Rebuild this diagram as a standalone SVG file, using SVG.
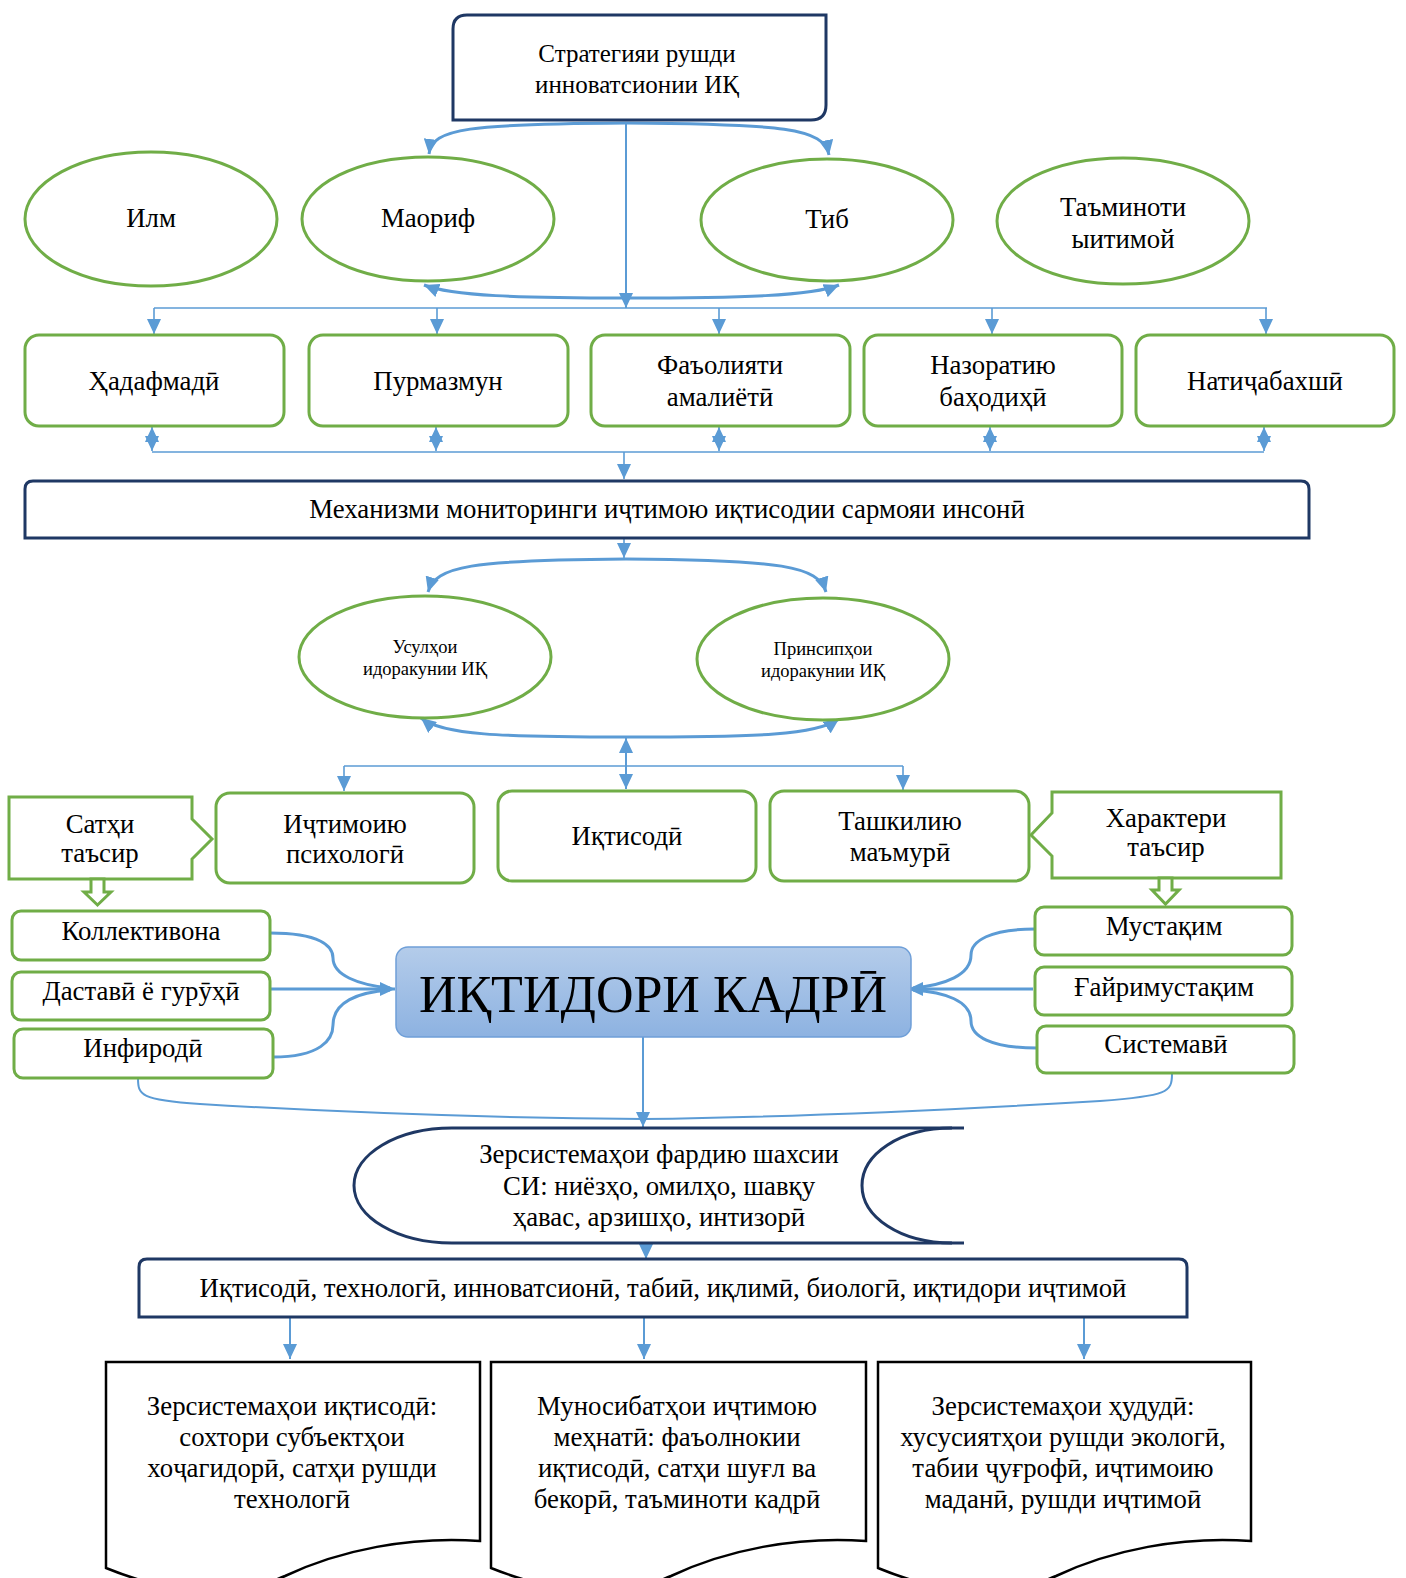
<svg xmlns="http://www.w3.org/2000/svg" width="1406" height="1578" viewBox="0 0 1406 1578">
<defs>
<style>
text{font-family:"Liberation Serif","Times New Roman",serif;fill:#000;text-anchor:middle}
.t25{font-size:26.8px}
.t24{font-size:25px}
.t18{font-size:18.5px}
.green{fill:#fff;stroke:#70AD47;stroke-width:3}
.navy{fill:#fff;stroke:#1F3864;stroke-width:3}
.doc{fill:#fff;stroke:#000;stroke-width:2.5}
.c{fill:none;stroke:#5B9BD5;stroke-width:2}
.ct{fill:none;stroke:#5B9BD5;stroke-width:3}
.ch{fill:none;stroke:#5B9BD5;stroke-width:1.6}
.ar{marker-end:url(#ah)}
.dbl{marker-start:url(#ah);marker-end:url(#ah)}
</style>
<marker id="ah" markerUnits="userSpaceOnUse" markerWidth="16" markerHeight="14" refX="15" refY="7" orient="auto-start-reverse" viewBox="0 0 16 14">
<path d="M0,0 L15,7 L0,14 z" fill="#5B9BD5"/>
</marker>
<linearGradient id="gb" x1="0" y1="0" x2="0" y2="1">
<stop offset="0" stop-color="#B4CCEA"/>
<stop offset="1" stop-color="#8DB2E1"/>
</linearGradient>
</defs>

<g id="connectors">
<path class="ct ar" d="M626,123 C470,124 432,128 429,154"/>
<path class="ct ar" d="M626,123 C782,124 824,128 829,155"/>
<path class="c ar" d="M626,122 V308"/>
<path class="ct ar" d="M626,298 C520,298 452,296 424,285"/>
<path class="ct ar" d="M626,298 C740,298 812,296 839,285"/>
<path class="ch" d="M154,308 H1267"/>
<path class="ch ar" d="M154,308 V334"/>
<path class="ch ar" d="M437,308 V334"/>
<path class="ch ar" d="M719,308 V334"/>
<path class="ch ar" d="M992,308 V334"/>
<path class="ch ar" d="M1266,308 V334"/>
<path class="ch dbl" d="M152,427 V451"/>
<path class="ch dbl" d="M436,427 V451"/>
<path class="ch dbl" d="M719,427 V451"/>
<path class="ch dbl" d="M990,427 V451"/>
<path class="ch dbl" d="M1264,427 V451"/>
<path class="ch" d="M152,452 H1264"/>
<path class="ch ar" d="M624,452 V479"/>
<path class="ch ar" d="M624,538 V558"/>
<path class="ct ar" d="M626,559 C470,560 436,566 428,592"/>
<path class="ct ar" d="M626,559 C782,560 818,566 826,592"/>
<path class="ct ar" d="M626,737 C500,737 442,735 421,718"/>
<path class="ct ar" d="M626,737 C760,737 816,735 839,719"/>
<path class="c dbl" d="M626,738 V789"/>
<path class="ch" d="M344,766 H903"/>
<path class="ch ar" d="M344,766 V791"/>
<path class="ch ar" d="M903,766 V790"/>
<path class="ct" d="M270,933 C320,933 333,946 333,958 C333,975 358,985 390,988"/>
<path class="ct ar" d="M270,989 H395"/>
<path class="ct" d="M273,1057 C320,1057 333,1040 333,1025 C333,1002 358,992 390,990"/>
<path class="ct" d="M1035,929 C990,929 971,941 971,955 C971,975 945,985 913,988"/>
<path class="ct ar" d="M1033,989 H908"/>
<path class="ct" d="M1037,1048 C990,1048 971,1036 971,1021 C971,1001 945,992 913,990"/>
<path class="c" d="M138,1078 C138,1095 140,1100 200,1104 C350,1113 500,1118 643,1119"/>
<path class="c" d="M1172,1074 C1172,1092 1168,1096 1100,1101 C950,1110 800,1117 643,1119"/>
<path class="c ar" d="M643,1037 V1127"/>
<path class="c ar" d="M646,1244 V1259"/>
<path class="c ar" d="M290,1317 V1359"/>
<path class="c ar" d="M644,1317 V1359"/>
<path class="c ar" d="M1084,1317 V1359"/>
</g>

<g id="n-strategy">
<path class="navy" d="M467,15 H826 V105 Q826,120 811,120 H453 V29 Q453,15 467,15 Z"/>
<text class="t24" x="637" y="62">Стратегияи рушди</text>
<text class="t24" x="637" y="93">инноватсионии ИҚ</text>
</g>

<g id="n-ilm"><ellipse class="green" cx="151" cy="219" rx="126" ry="67"/><text class="t25" x="151" y="227">Илм</text></g>
<g id="n-maorif"><ellipse class="green" cx="428" cy="219" rx="126" ry="62"/><text class="t25" x="428" y="227">Маориф</text></g>
<g id="n-tib"><ellipse class="green" cx="827" cy="220" rx="126" ry="61"/><text class="t25" x="827" y="228">Тиб</text></g>
<g id="n-taminot"><ellipse class="green" cx="1123" cy="221" rx="126" ry="63"/><text class="t25" x="1123" y="216">Таъминоти</text><text class="t25" x="1123" y="248">ыитимой</text></g>

<g id="n-hadaf"><rect class="green" x="25" y="335" width="259" height="91" rx="14"/><text class="t25" x="154" y="390">Ҳадафмадӣ</text></g>
<g id="n-purmazmun"><rect class="green" x="309" y="335" width="259" height="91" rx="14"/><text class="t25" x="438" y="390">Пурмазмун</text></g>
<g id="n-faoliyat"><rect class="green" x="591" y="335" width="259" height="91" rx="14"/><text class="t25" x="720" y="374">Фаъолияти</text><text class="t25" x="720" y="406">амалиётӣ</text></g>
<g id="n-nazorat"><rect class="green" x="864" y="335" width="258" height="91" rx="14"/><text class="t25" x="993" y="374">Назоратию</text><text class="t25" x="993" y="406">баҳодиҳӣ</text></g>
<g id="n-natija"><rect class="green" x="1136" y="335" width="258" height="91" rx="14"/><text class="t25" x="1265" y="390">Натиҷабахшӣ</text></g>

<g id="n-mexanizm">
<path class="navy" d="M25,538 V489 Q25,481 33,481 H1301 Q1309,481 1309,489 V538 Z"/>
<text class="t25" x="667" y="518">Механизми мониторинги иҷтимою иқтисодии сармояи инсонӣ</text>
</g>

<g id="n-usul"><ellipse class="green" cx="425" cy="657" rx="126" ry="61"/><text class="t18" x="425" y="653">Усулҳои</text><text class="t18" x="425" y="675">идоракунии ИҚ</text></g>
<g id="n-prinsip"><ellipse class="green" cx="823" cy="659" rx="126" ry="61"/><text class="t18" x="823" y="655">Принсипҳои</text><text class="t18" x="823" y="677">идоракунии ИҚ</text></g>

<g id="n-sathi">
<path class="green" d="M9,797 H192 V819 L212,839 L192,859 V879 H9 Z"/>
<text class="t25" x="100" y="833">Сатҳи</text><text class="t25" x="100" y="862">таъсир</text>
<path class="green" d="M91,879 H104 V892 H111 L97.5,905 L84,892 H91 Z"/>
</g>
<g id="n-ijtimoi"><rect class="green" x="216" y="793" width="258" height="90" rx="14"/><text class="t25" x="345" y="833">Иҷтимоию</text><text class="t25" x="345" y="863">психологӣ</text></g>
<g id="n-iqtisodi"><rect class="green" x="498" y="791" width="258" height="90" rx="14"/><text class="t25" x="627" y="845">Иқтисодӣ</text></g>
<g id="n-tashkili"><rect class="green" x="770" y="791" width="259" height="90" rx="14"/><text class="t25" x="900" y="830">Ташкилию</text><text class="t25" x="900" y="861">маъмурӣ</text></g>
<g id="n-xarakter">
<path class="green" d="M1052,792 H1281 V878 H1052 V856 L1031,835 L1052,813 Z"/>
<text class="t25" x="1166" y="827">Характери</text><text class="t25" x="1166" y="856">таъсир</text>
<path class="green" d="M1159,878 H1172 V890 H1179 L1165.5,904 L1152,890 H1159 Z"/>
</g>

<g id="n-kollektiv"><rect class="green" x="12" y="911" width="258" height="49" rx="9"/><text class="t25" x="141" y="940">Коллективона</text></g>
<g id="n-dastavi"><rect class="green" x="12" y="972" width="258" height="48" rx="9"/><text class="t25" x="141" y="1000">Даставӣ ё гурӯҳӣ</text></g>
<g id="n-infirodi"><rect class="green" x="14" y="1029" width="259" height="49" rx="9"/><text class="t25" x="143" y="1057">Инфиродӣ</text></g>

<g id="n-mustaqim"><rect class="green" x="1035" y="907" width="257" height="48" rx="9"/><text class="t25" x="1164" y="935">Мустақим</text></g>
<g id="n-ghayri"><rect class="green" x="1035" y="967" width="257" height="48" rx="9"/><text class="t25" x="1164" y="996">Ғайримустақим</text></g>
<g id="n-sistemavi"><rect class="green" x="1037" y="1026" width="257" height="47" rx="9"/><text class="t25" x="1166" y="1053">Системавӣ</text></g>

<g id="n-center">
<rect x="396" y="947" width="515" height="90" rx="12" fill="url(#gb)" stroke="#6F9FD8" stroke-width="1.5"/>
<text x="653" y="1012" style="font-size:52px">ИҚТИДОРИ КАДРӢ</text>
</g>

<g id="n-zersistema">
<path fill="#fff" stroke="none" d="M964,1128 H452 C397,1128 354,1154 354,1185.5 C354,1217 397,1243 452,1243 H964 C900,1243 862,1217 862,1185.5 C862,1154 900,1128 964,1128 Z"/>
<path fill="none" stroke="#1F3864" stroke-width="3" d="M964,1128 H452 C397,1128 354,1154 354,1185.5 C354,1217 397,1243 452,1243 H964"/>
<path fill="none" stroke="#1F3864" stroke-width="3" d="M952,1128 C900,1128 862,1154 862,1185.5 C862,1217 900,1243 952,1243"/>
<text class="t25" x="659" y="1163">Зерсистемаҳои фардию шахсии</text>
<text class="t25" x="659" y="1195">СИ: ниёзҳо, омилҳо, шавқу</text>
<text class="t25" x="659" y="1226">ҳавас, арзишҳо, интизорӣ</text>
</g>

<g id="n-iqtisodi-tex">
<path class="navy" d="M139,1317 V1267 Q139,1259 147,1259 H1179 Q1187,1259 1187,1267 V1317 Z"/>
<text class="t25" x="663" y="1297">Иқтисодӣ, технологӣ, инноватсионӣ, табиӣ, иқлимӣ, биологӣ, иқтидори иҷтимоӣ</text>
</g>

<g id="n-doc1">
<path class="doc" d="M106,1362 H480 V1541 C410,1536 340,1550 285,1576 C235,1598 175,1596 106,1568 Z"/>
<text class="t25" x="292" y="1415">Зерсистемаҳои иқтисодӣ:</text>
<text class="t25" x="292" y="1446">сохтори субъектҳои</text>
<text class="t25" x="292" y="1477">хоҷагидорӣ, сатҳи рушди</text>
<text class="t25" x="292" y="1508">технологӣ</text>
</g>
<g id="n-doc2">
<path class="doc" d="M491,1362 H866 V1541 C796,1536 726,1550 671,1576 C621,1598 561,1596 491,1568 Z"/>
<text class="t25" x="677" y="1415">Муносибатҳои иҷтимою</text>
<text class="t25" x="677" y="1446">меҳнатӣ: фаъолнокии</text>
<text class="t25" x="677" y="1477">иқтисодӣ, сатҳи шуғл ва</text>
<text class="t25" x="677" y="1508">бекорӣ, таъминоти кадрӣ</text>
</g>
<g id="n-doc3">
<path class="doc" d="M878,1362 H1251 V1541 C1181,1536 1111,1550 1056,1576 C1006,1598 946,1596 878,1568 Z"/>
<text class="t25" x="1063" y="1415">Зерсистемаҳои ҳудудӣ:</text>
<text class="t25" x="1063" y="1446">хусусиятҳои рушди экологӣ,</text>
<text class="t25" x="1063" y="1477">табии ҷуғрофӣ, иҷтимоию</text>
<text class="t25" x="1063" y="1508">маданӣ, рушди иҷтимоӣ</text>
</g>
</svg>
